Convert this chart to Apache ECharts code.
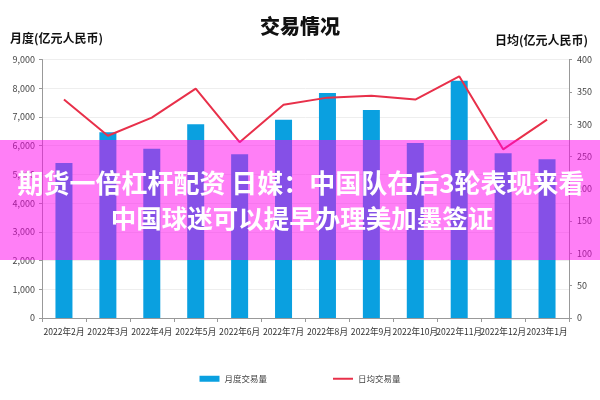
<!DOCTYPE html>
<html><head><meta charset="utf-8">
<script src="https://cdn.jsdelivr.net/npm/echarts@6/dist/echarts.min.js"></script>
<style>html,body{margin:0;padding:0;background:#fff}#c{width:600px;height:400px}</style>
</head><body><div id="c"></div>
<script>
const categories = ['2022年2月','2022年3月','2022年4月','2022年5月','2022年6月','2022年7月','2022年8月','2022年9月','2022年10月','2022年11月','2022年12月','2023年1月'];
const monthlyVolume = [5400, 6470, 5890, 6750, 5700, 6900, 7830, 7240, 6090, 8260, 5740, 5530];
const dailyVolume = [338, 282, 310, 355, 272, 330, 341, 344, 338, 374, 261, 307];
const leftTicks = [0, 9000, 1000];
const rightTicks = [0, 400, 50];
const seriesNames = ['月度交易量', '日均交易量'];
const titleText = '交易情况';
const leftName = '月度(亿元人民币)';
const rightName = '日均(亿元人民币)';
const bannerLines = ['期货一倍杠杆配资 日媒：中国队在后3轮表现来看', '中国球迷可以提早办理美加墨签证'];

const cjk = '"Noto Sans CJK SC", "Noto Sans", sans-serif';
const chart = echarts.init(document.getElementById('c'));
chart.setOption({
  animation: false,
  title: { text: titleText, left: 'center', top: 11, textStyle: { fontFamily: cjk, fontSize: 20, fontWeight: 900, color: '#111' } },
  legend: {
    bottom: 12, left: 'center', itemGap: 66, itemWidth: 20, itemHeight: 6,
    textStyle: { fontFamily: cjk, fontSize: 8.5, color: '#444' },
    data: [{ name: seriesNames[0], icon: 'rect' }, { name: seriesNames[1], icon: 'path://M0,0M0,2H20V4H0ZM20,6' }]
  },
  grid: { left: 42, right: 31, top: 59.5, bottom: 82 },
  xAxis: {
    type: 'category', data: categories,
    axisLine: { lineStyle: { color: '#999' } },
    axisTick: { show: true, length: 4, lineStyle: { color: '#999' } },
    axisLabel: { interval: 0, fontFamily: cjk, fontSize: 8.6, color: '#333', margin: 9 }
  },
  yAxis: [
    { type: 'value', min: leftTicks[0], max: leftTicks[1], interval: leftTicks[2],
      axisLine: { show: true, lineStyle: { color: '#999' } },
      axisTick: { show: true, length: 3, lineStyle: { color: '#999' } },
      splitLine: { lineStyle: { color: '#eee' } },
      axisLabel: { fontFamily: cjk, fontSize: 9, color: '#444', margin: 7,
        formatter: v => v.toLocaleString('en-US') } },
    { type: 'value', min: rightTicks[0], max: rightTicks[1], interval: rightTicks[2],
      axisLine: { show: true, lineStyle: { color: '#999' } },
      axisTick: { show: true, length: 3, lineStyle: { color: '#999' } },
      splitLine: { show: false },
      axisLabel: { fontFamily: cjk, fontSize: 9, color: '#444', margin: 8 } }
  ],
  series: [
    { name: seriesNames[0], type: 'bar', data: monthlyVolume, barWidth: 17, itemStyle: { color: '#0aa0e0' } },
    { name: seriesNames[1], type: 'line', yAxisIndex: 1, data: dailyVolume, symbol: 'none',
      lineStyle: { color: '#e8304a', width: 2 }, itemStyle: { color: '#e8304a' } }
  ],
  graphic: [
    { type: 'text', left: 10, top: 32, style: { text: leftName, font: 'bold 12px ' + cjk, fill: '#111' } },
    { type: 'text', right: 12, top: 34, style: { text: rightName, font: 'bold 12px ' + cjk, fill: '#111' } },
    { type: 'rect', z: 100, shape: { x: 0, y: 140, width: 600, height: 120 }, style: { fill: 'rgba(255,0,238,0.5)' } },
    { type: 'text', z: 101, x: 301, y: 183, style: { text: bannerLines[0], font: 'bold 26px ' + cjk, fill: '#fff', textAlign: 'center', textVerticalAlign: 'middle' } },
    { type: 'text', z: 101, x: 302, y: 218, style: { text: bannerLines[1], font: 'bold 25.5px ' + cjk, fill: '#fff', textAlign: 'center', textVerticalAlign: 'middle' } }
  ]
});
</script></body></html>
